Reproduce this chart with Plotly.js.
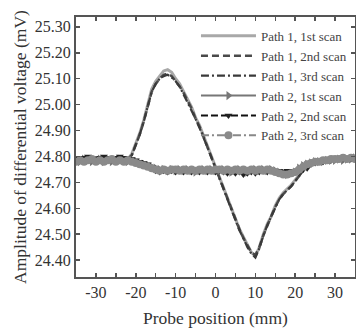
<!DOCTYPE html>
<html><head><meta charset="utf-8">
<script src="https://cdn.plot.ly/plotly-3.0.1.min.js"></script>
<style>html,body{margin:0;padding:0;background:#fff}#c{width:356px;height:329px}</style>
</head><body><div id="c"></div>
<script>
var positions = [-35,-34,-33,-32,-31,-30,-29,-28,-27,-26,-25,-24,-23,-22,-21,-20,-19,-18,-17,-16,-15,-14,-13,-12,-11,-10,-9,-8,-7,-6,-5,-4,-3,-2,-1,0,1,2,3,4,5,6,7,8,9,10,11,12,13,14,15,16,17,18,19,20,21,22,23,24,25,26,27,28,29,30,31,32,33,34,35];

var path1Scan1 = [24.79,24.79,24.79,24.79,24.79,24.79,24.79,24.795,24.79,24.79,24.79,24.79,24.79,24.79,24.81,24.85,24.89,24.94,25.00,25.06,25.09,25.11,25.13,25.135,25.125,25.10,25.08,25.05,25.02,24.99,24.95,24.92,24.88,24.84,24.80,24.76,24.72,24.68,24.64,24.60,24.56,24.52,24.49,24.46,24.43,24.415,24.45,24.50,24.54,24.57,24.61,24.64,24.66,24.675,24.69,24.71,24.73,24.75,24.765,24.77,24.775,24.78,24.78,24.785,24.785,24.79,24.79,24.79,24.795,24.79,24.79];
var path1Scan2 = [24.795,24.795,24.79,24.795,24.795,24.79,24.795,24.80,24.795,24.79,24.795,24.79,24.795,24.79,24.805,24.845,24.885,24.935,24.99,25.05,25.08,25.10,25.115,25.12,25.11,25.09,25.07,25.045,25.015,24.985,24.945,24.915,24.875,24.835,24.795,24.755,24.715,24.675,24.635,24.595,24.555,24.52,24.485,24.455,24.43,24.42,24.45,24.495,24.535,24.57,24.605,24.635,24.655,24.67,24.685,24.705,24.725,24.745,24.76,24.77,24.775,24.78,24.785,24.785,24.79,24.79,24.795,24.79,24.795,24.795,24.79];
var path1Scan3 = [24.79,24.795,24.79,24.79,24.795,24.79,24.79,24.795,24.79,24.795,24.79,24.79,24.795,24.79,24.805,24.845,24.885,24.935,24.995,25.05,25.08,25.10,25.11,25.115,25.105,25.09,25.07,25.04,25.01,24.98,24.945,24.91,24.875,24.835,24.795,24.755,24.715,24.675,24.635,24.595,24.555,24.515,24.485,24.45,24.425,24.41,24.445,24.495,24.535,24.57,24.605,24.635,24.655,24.67,24.685,24.705,24.725,24.745,24.76,24.77,24.775,24.78,24.78,24.785,24.79,24.79,24.79,24.795,24.79,24.79,24.795];

var path2Scan1 = [24.785,24.78,24.79,24.785,24.78,24.785,24.79,24.78,24.785,24.78,24.785,24.79,24.785,24.78,24.785,24.78,24.775,24.77,24.765,24.76,24.755,24.75,24.75,24.745,24.75,24.745,24.75,24.745,24.75,24.745,24.74,24.745,24.75,24.745,24.75,24.745,24.745,24.75,24.745,24.74,24.745,24.75,24.745,24.74,24.745,24.75,24.745,24.75,24.745,24.75,24.745,24.74,24.735,24.73,24.735,24.74,24.755,24.765,24.77,24.775,24.78,24.78,24.78,24.785,24.785,24.785,24.79,24.785,24.79,24.79,24.795];
var path2Scan2 = [24.795,24.79,24.795,24.80,24.795,24.79,24.795,24.80,24.795,24.79,24.795,24.80,24.795,24.79,24.79,24.785,24.78,24.775,24.77,24.76,24.745,24.74,24.745,24.74,24.745,24.74,24.745,24.74,24.745,24.74,24.745,24.74,24.745,24.74,24.745,24.74,24.745,24.74,24.735,24.74,24.735,24.74,24.73,24.735,24.74,24.735,24.74,24.745,24.74,24.745,24.74,24.745,24.74,24.745,24.745,24.745,24.75,24.75,24.755,24.77,24.775,24.78,24.78,24.785,24.785,24.79,24.79,24.79,24.795,24.79,24.795];
var path2Scan3 = [24.78,24.785,24.78,24.785,24.79,24.78,24.785,24.78,24.785,24.79,24.78,24.785,24.78,24.785,24.78,24.775,24.77,24.765,24.76,24.755,24.75,24.745,24.75,24.745,24.75,24.75,24.745,24.75,24.745,24.75,24.745,24.75,24.745,24.75,24.745,24.75,24.75,24.745,24.75,24.745,24.75,24.745,24.75,24.745,24.75,24.745,24.75,24.745,24.75,24.745,24.74,24.735,24.73,24.73,24.735,24.74,24.75,24.76,24.77,24.775,24.78,24.78,24.785,24.785,24.79,24.79,24.79,24.795,24.79,24.795,24.79];

var seriesNames = ['Path 1, 1st scan','Path 1, 2nd scan','Path 1, 3rd scan','Path 2, 1st scan','Path 2, 2nd scan','Path 2, 3rd scan'];
var xTickVals = [-30,-20,-10,0,10,20,30];
var xTickText = ['-30','-20','-10','0','10','20','30'];
var yTickVals = [24.4,24.5,24.6,24.7,24.8,24.9,25.0,25.1,25.2,25.3];

var traces = [
  {x: positions, y: path1Scan1, name: seriesNames[0], mode: 'lines', line: {color: '#a8a8a8', width: 3}},
  {x: positions, y: path1Scan2, name: seriesNames[1], mode: 'lines', line: {color: '#4a4a4a', width: 2.5, dash: '7px,4px'}},
  {x: positions, y: path1Scan3, name: seriesNames[2], mode: 'lines', line: {color: '#3a3a3a', width: 2.2, dash: '8px,3px,2px,3px'}},
  {x: positions, y: path2Scan1, name: seriesNames[3], mode: 'lines+markers', line: {color: '#777', width: 2}, marker: {symbol: 'triangle-right', size: 8, color: '#777'}},
  {x: positions, y: path2Scan2, name: seriesNames[4], mode: 'lines+markers', line: {color: '#111', width: 2, dash: '7px,3px'}, marker: {symbol: 'triangle-down', size: 7, color: '#222'}},
  {x: positions, y: path2Scan3, name: seriesNames[5], mode: 'lines+markers', line: {color: '#888', width: 2, dash: '8px,3px,2px,3px'}, marker: {symbol: 'circle', size: 8, color: '#8a8a8a'}}
];

var serif = 'Liberation Serif, Times New Roman, serif';
var axisCommon = {
  showgrid: false, zeroline: false, showline: true, linecolor: '#555', linewidth: 2,
  mirror: 'ticks', ticks: 'inside', ticklen: 4, tickwidth: 1.5, tickcolor: '#555',
  tickfont: {family: serif, size: 16, color: '#333'}
};

var layout = {
  width: 356, height: 329,
  margin: {l: 76, r: 1, t: 17, b: 52},
  paper_bgcolor: '#fff', plot_bgcolor: '#fff',
  font: {family: serif, color: '#333'},
  showlegend: true,
  legend: {x: 0.43, xanchor: 'left', y: 0.985, yanchor: 'top', bgcolor: 'rgba(255,255,255,0)',
           font: {family: serif, size: 13, color: '#444'}, itemwidth: 55, tracegroupgap: 0},
  xaxis: Object.assign({}, axisCommon, {
    range: [-35, 35], tickmode: 'array', tickvals: xTickVals, ticktext: xTickText,
    minor: {dtick: 5, tick0: -35, ticks: 'inside', ticklen: 4, tickwidth: 1.5, tickcolor: '#555'},
    title: {text: 'Probe position (mm)', font: {family: serif, size: 17.5, color: '#333'}, standoff: 12}
  }),
  yaxis: Object.assign({}, axisCommon, {
    range: [24.335, 25.338], tickmode: 'array', tickvals: yTickVals, tickformat: '.2f',
    title: {text: 'Amplitude of differential voltage (mV)', font: {family: serif, size: 17.5, color: '#333'}, standoff: 4}
  })
};

Plotly.newPlot('c', traces, layout, {staticPlot: true, displayModeBar: false});
</script></body></html>
